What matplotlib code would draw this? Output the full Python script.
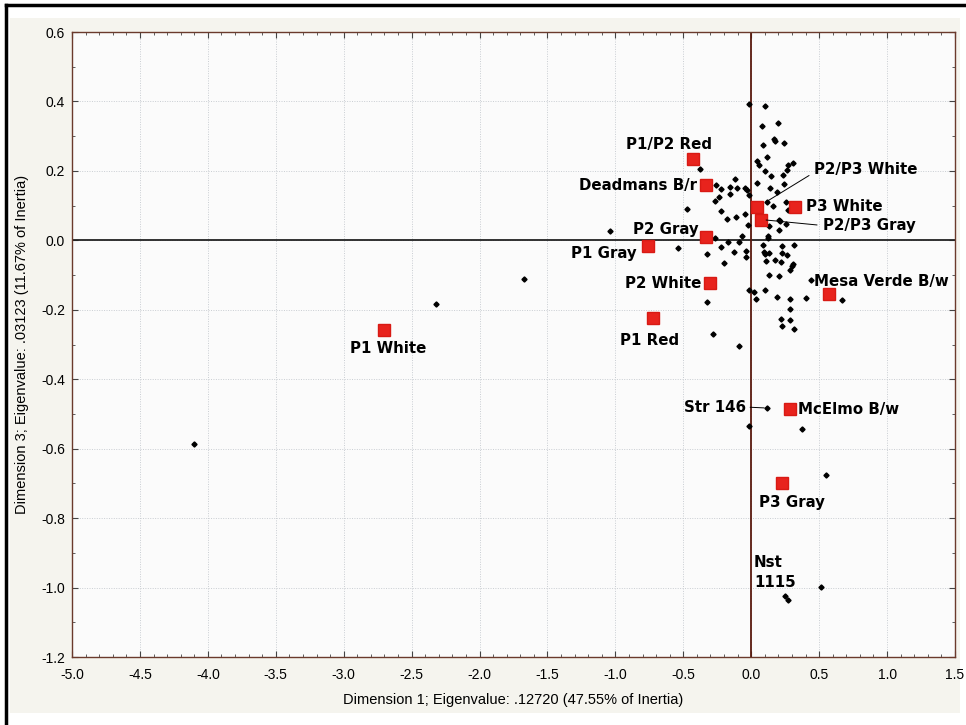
import matplotlib.pyplot as plt
from matplotlib.patches import Rectangle
from matplotlib.ticker import MultipleLocator
import numpy as np

# ware types (red squares)
ware_names = ["P1 White", "P1 Red", "P1 Gray", "P1/P2 Red", "Deadmans B/r", "P2 Gray",
              "P2 White", "P2/P3 White", "P2/P3 Gray", "P3 White", "Mesa Verde B/w",
              "McElmo B/w", "P3 Gray"]
ware_dim1 = [-2.70, -0.721, -0.76, -0.432, -0.336, -0.333, -0.307, 0.044, 0.069, 0.324, 0.574, 0.287, 0.230]
ware_dim3 = [-0.259, -0.225, -0.017, 0.235, 0.158, 0.009, -0.123, 0.095, 0.060, 0.097, -0.154, -0.487, -0.698]

# sites (black points)
site_dim1 = [-4.105, -2.32, -1.67, -1.043, -0.542, -0.473, -0.378,
             -0.013, 0.098, 0.079, 0.199, 0.167, 0.172, 0.086, 0.243, 0.118, 0.044, 0.056, 0.309,
             0.270, 0.263, 0.100, 0.142, 0.233, -0.120, 0.044, 0.243, -0.263, -0.223, -0.155,
             -0.105, -0.044, -0.032, 0.135, 0.191, -0.155, -0.238, -0.013, -0.267, 0.113, 0.160,
             0.255, 0.270, -0.223, -0.182, -0.113, -0.049, -0.024, 0.204, 0.215, 0.255, 0.132,
             0.208, 0.127, 0.120, -0.066, -0.267, -0.172, -0.090, -0.221, 0.083, 0.228, 0.314,
             -0.326, -0.125, -0.037, 0.093, 0.105, 0.132, 0.223, 0.265, -0.037, -0.201, 0.108,
             0.174, 0.216, 0.304, 0.298, 0.289, 0.132, 0.206, 0.440, -0.015, 0.017, 0.105, 0.191,
             0.287, 0.403, 0.668, -0.324, 0.032, 0.287, 0.219, 0.287, 0.226, 0.314, -0.282,
             -0.088, -0.013, 0.373, 0.554, 0.510, 0.270]
site_dim3 = [-0.586, -0.184, -0.112, 0.028, -0.021, 0.090, 0.205,
             0.394, 0.387, 0.330, 0.338, 0.292, 0.286, 0.275, 0.279, 0.239, 0.229, 0.216, 0.224,
             0.217, 0.202, 0.199, 0.185, 0.187, 0.176, 0.165, 0.163, 0.159, 0.148, 0.154,
             0.152, 0.150, 0.144, 0.152, 0.140, 0.133, 0.125, 0.131, 0.114, 0.111, 0.098,
             0.111, 0.086, 0.085, 0.061, 0.067, 0.077, 0.043, 0.060, 0.055, 0.048, 0.041,
             0.031, 0.012, 0.007, 0.012, 0.007, -0.006, -0.004, -0.019, -0.014, -0.015, -0.014,
             -0.038, -0.035, -0.031, -0.033, -0.040, -0.036, -0.036, -0.043, -0.048, -0.064, -0.060,
             -0.058, -0.061, -0.069, -0.075, -0.086, -0.099, -0.102, -0.113, -0.142, -0.150, -0.142, -0.162,
             -0.168, -0.165, -0.173, -0.177, -0.168, -0.197, -0.227, -0.228, -0.246, -0.254, -0.269,
             -0.305, -0.536, -0.544, -0.677, -0.997, -1.037]

# named sites
named_sites = ["Str 146", "Nst\n1115"]
named_dim1 = [0.116, 0.248]
named_dim3 = [-0.483, -1.024]

# label placement (offset in pixels, alignment)
ware_lab = {
    "P1 White": (4, -18, "center"), "P1 Red": (-4, -22, "center"),
    "P1 Gray": (-11, -7, "right"), "P1/P2 Red": (-24, 14, "center"),
    "Deadmans B/r": (-9, 0, "right"), "P2 Gray": (-7, 8, "right"),
    "P2 White": (-8, 0, "right"), "P2/P3 White": (57, 38, "left"),
    "P2/P3 Gray": (62, -6, "left"), "P3 White": (11, 0, "left"),
    "Mesa Verde B/w": (-15, 12, "left"), "McElmo B/w": (8, 0, "left"),
    "P3 Gray": (9, -20, "center"),
}
leaders = {"P2/P3 White": (0, 0.3, 8), "P2/P3 Gray": (0, 0.5, 4)}

fig = plt.figure(figsize=(9.66, 7.25), dpi=100, facecolor="white")
fig.patches.append(Rectangle((10 / 966, 12 / 725), 950 / 966, 695 / 725, transform=fig.transFigure,
                             facecolor="#f5f4ee", edgecolor="none", zorder=-2))
fig.add_artist(plt.Line2D([6 / 966, 6 / 966], [0, 720 / 725], color="black", lw=2.5, transform=fig.transFigure))
fig.add_artist(plt.Line2D([6 / 966, 1], [720 / 725, 720 / 725], color="black", lw=2.5, transform=fig.transFigure))

ax = fig.add_axes([72 / 966, 68 / 725, 883 / 966, 625 / 725])
ax.set_facecolor("#fbfbfb")

ax.set_xlim(-5.0, 1.5)
ax.set_ylim(-1.2, 0.6)
ax.xaxis.set_major_locator(MultipleLocator(0.5))
ax.xaxis.set_minor_locator(MultipleLocator(0.1))
ax.yaxis.set_major_locator(MultipleLocator(0.2))
ax.yaxis.set_minor_locator(MultipleLocator(0.1))
ax.xaxis.set_major_formatter(lambda v, p: f"{v:.1f}")
ax.yaxis.set_major_formatter(lambda v, p: f"{v:.1f}")
ax.tick_params(which="both", direction="in", top=True, right=True, color="#444444")
ax.tick_params(which="major", length=4, labelsize=10, pad=5)
ax.tick_params(axis="x", which="major", pad=8)
ax.tick_params(which="minor", length=2.5)
for lbl in ax.get_xticklabels() + ax.get_yticklabels():
    lbl.set_family(["Liberation Sans", "DejaVu Sans"])
ax.grid(True, which="major", color="#c9cdd2", lw=0.7, ls=(0, (1, 1.5)))
ax.set_axisbelow(True)
for s in ax.spines.values():
    s.set_color("#6b3a2c")
    s.set_linewidth(1.0)

ax.axhline(0, color="#222222", lw=1.3, zorder=1)
ax.axvline(0, color="#5a1a0e", lw=1.3, zorder=1)

ax.plot(site_dim1, site_dim3, ls="none", marker="D", ms=2.6, color="black", zorder=3)
ax.plot(named_dim1, named_dim3, ls="none", marker="D", ms=2.6, color="black", zorder=3)
ax.plot(ware_dim1, ware_dim3, ls="none", marker="s", ms=8, color="#e8231d", mec="#d81a14", zorder=4)

font = dict(family="DejaVu Sans", weight="bold", size=10.8, color="black")
for name, x, y in zip(ware_names, ware_dim1, ware_dim3):
    dx, dy, ha = ware_lab[name]
    arrow = None
    if name in leaders:
        rx, ry, sb = leaders[name]
        arrow = dict(arrowstyle="-", color="black", lw=0.7, relpos=(rx, ry), shrinkA=2, shrinkB=sb)
    ax.annotate(name, (x, y), xytext=(dx, dy), textcoords="offset pixels",
                ha=ha, va="center", arrowprops=arrow, zorder=5, **font)

ax.annotate(named_sites[0], (named_dim1[0], named_dim3[0]), xytext=(-21, 1), textcoords="offset pixels",
            ha="right", va="center", zorder=5,
            arrowprops=dict(arrowstyle="-", color="black", lw=0.7, relpos=(1, 0.5), shrinkA=1, shrinkB=2), **font)
ax.annotate(named_sites[1], (named_dim1[1], named_dim3[1]), xytext=(-31, 23), textcoords="offset pixels",
            ha="left", va="center", linespacing=1.4, zorder=5, **font)

lab_font = dict(family=["Liberation Sans", "DejaVu Sans"], size=10.5)
ax.set_xlabel("Dimension 1; Eigenvalue: .12720 (47.55% of Inertia)", labelpad=8, **lab_font)
ax.set_ylabel("Dimension 3; Eigenvalue: .03123 (11.67% of Inertia)", labelpad=9, **lab_font)

fig.savefig("out.png", dpi=100, facecolor=fig.get_facecolor())
